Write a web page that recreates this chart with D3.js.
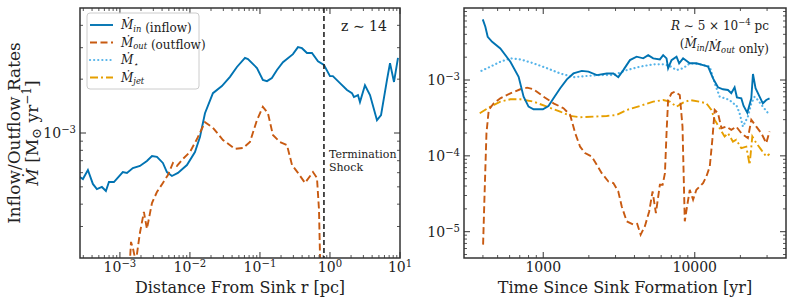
<!DOCTYPE html>
<html>
<head>
<meta charset="utf-8">
<script src="https://cdn.jsdelivr.net/npm/d3@7"></script>
<style>
  body { margin: 0; background: #fff; }
  text { font-family: "DejaVu Serif", serif; fill: #222; }
</style>
</head>
<body>
<div id="chart"></div>
<script>
// left panel: rate vs distance from sink [pc, Msun/yr]
const distInflow = [
  [2.68e-4, 5.68e-4], [2.96e-4, 5.53e-4], [3.49e-4, 6.21e-4], [4.11e-4, 5.19e-4], [4.69e-4, 4.86e-4],
  [5.53e-4, 4.99e-4], [6.31e-4, 4.74e-4], [6.97e-4, 5.32e-4], [8.21e-4, 5.32e-4], [1.10e-3, 6.05e-4],
  [1.26e-3, 5.98e-4], [1.53e-3, 6.37e-4], [1.93e-3, 6.54e-4], [2.43e-3, 6.98e-4], [2.87e-3, 7.44e-4],
  [3.38e-3, 7.35e-4], [4.11e-3, 6.80e-4], [4.69e-3, 6.05e-4], [5.53e-3, 5.75e-4], [6.74e-3, 5.98e-4],
  [9.06e-3, 6.62e-4], [1.18e-2, 7.83e-4], [1.39e-2, 9.50e-4], [1.64e-2, 1.29e-3], [2.13e-2, 1.67e-3],
  [2.86e-2, 1.83e-3], [3.73e-2, 2.06e-3], [4.69e-2, 2.34e-3], [6.11e-2, 2.63e-3], [6.74e-2, 2.59e-3],
  [9.06e-2, 2.31e-3], [0.110, 1.98e-3], [0.126, 1.95e-3], [0.148, 2.03e-3], [0.175, 2.25e-3],
  [0.213, 2.49e-3], [0.296, 2.76e-3], [0.349, 3.02e-3], [0.398, 2.98e-3], [0.469, 2.80e-3],
  [0.553, 2.80e-3], [0.674, 2.52e-3], [0.821, 2.40e-3], [1.00, 2.08e-3], [1.10, 2.08e-3],
  [1.39, 1.90e-3], [1.75, 1.74e-3], [2.06, 1.67e-3], [2.20, 1.59e-3], [2.51, 1.63e-3],
  [2.68, 1.49e-3], [3.16, 1.85e-3], [3.73, 1.63e-3], [4.69, 1.18e-3], [5.36, 1.26e-3],
  [6.52, 1.98e-3], [7.20, 2.46e-3], [8.21, 1.93e-3], [9.36, 2.63e-3]
];
const distOutflow = [
  [1.30e-3, 1.2e-4], [1.44e-3, 2.46e-4], [1.53e-3, 2.28e-4], [1.69e-3, 1.9e-4], [1.81e-3, 2.31e-4],
  [1.93e-3, 2.76e-4], [2.20e-3, 3.62e-4], [2.43e-3, 2.91e-4], [2.87e-3, 4.06e-4], [3.38e-3, 4.68e-4],
  [4.11e-3, 5.26e-4], [4.85e-3, 5.82e-4], [5.72e-3, 6.80e-4], [6.52e-3, 6.54e-4], [7.94e-3, 7.16e-4],
  [1.00e-2, 7.83e-4], [1.26e-2, 9.25e-4], [1.64e-2, 1.15e-3], [2.13e-2, 1.07e-3], [2.96e-2, 9.14e-4],
  [4.39e-2, 8.15e-4], [5.72e-2, 8.24e-4], [7.20e-2, 8.91e-4], [9.06e-2, 1.18e-3], [0.110, 1.40e-3],
  [0.130, 1.29e-3], [0.153, 9.75e-4], [0.193, 8.91e-4], [0.243, 8.57e-4], [0.287, 6.62e-4],
  [0.349, 5.98e-4], [0.440, 5.26e-4], [0.572, 6.05e-4], [0.652, 5.61e-4], [0.697, 3.72e-4],
  [0.75, 1.0e-4]
];
const shockRadius = 0.82;

// right panel: rate vs time since sink formation [yr, Msun/yr]
const timeInflow = [
  [399, 6.30e-3], [415, 5.03e-3], [430, 3.71e-3], [460, 3.19e-3], [521, 2.61e-3], [607, 1.74e-3],
  [688, 1.10e-3], [742, 6.03e-4], [800, 4.45e-4], [863, 4.11e-4], [995, 4.11e-4], [1083, 4.55e-4],
  [1169, 5.74e-4], [1294, 7.78e-4], [1432, 1.02e-3], [1583, 1.22e-3], [1797, 1.32e-3], [1988, 1.29e-3],
  [2257, 1.16e-3], [2625, 1.22e-3], [2902, 1.22e-3], [3128, 1.09e-3], [3376, 1.35e-3], [3735, 1.83e-3],
  [4133, 2.03e-3], [4571, 1.93e-3], [4928, 2.13e-3], [5318, 1.93e-3], [5885, 1.87e-3], [6186, 2.13e-3],
  [6511, 1.93e-3], [6670, 1.43e-3], [7026, 1.83e-3], [7580, 2.03e-3], [7887, 1.66e-3], [8376, 1.93e-3],
  [9267, 1.66e-3], [10250, 1.66e-3], [11340, 1.57e-3], [12240, 1.50e-3], [13200, 1.05e-3], [14230, 8.02e-4],
  [15350, 7.55e-4], [16560, 7.39e-4], [17420, 6.68e-4], [18320, 8.02e-4], [18970, 5.91e-4], [20280, 5.74e-4],
  [21000, 4.55e-4], [22220, 3.71e-4], [23610, 5.74e-4], [24210, 1.20e-3], [25180, 7.78e-4], [26770, 6.03e-4],
  [28130, 4.93e-4], [29640, 5.45e-4], [31150, 5.74e-4]
];
const timeOutflow = [
  [401, 6.75e-6], [409, 2.64e-5], [422, 1.99e-4], [437, 4.03e-4], [471, 4.93e-4], [521, 5.74e-4],
  [607, 6.68e-4], [706, 7.55e-4], [782, 7.93e-4], [863, 7.55e-4], [1005, 6.03e-4], [1169, 4.93e-4],
  [1360, 4.25e-4], [1506, 3.46e-4], [1625, 1.99e-4], [1751, 1.32e-4], [1888, 1.09e-4], [2090, 9.80e-5],
  [2257, 7.62e-5], [2432, 5.92e-5], [2690, 4.59e-5], [2902, 4.37e-5], [3128, 3.39e-5], [3297, 2.15e-5],
  [3555, 1.37e-5], [3927, 1.24e-5], [4170, 1.27e-5], [4393, 9.14e-6], [4688, 1.18e-5], [5002, 1.85e-5],
  [5268, 3.39e-5], [5539, 1.76e-5], [5885, 4.15e-5], [6137, 4.15e-5], [6355, 5.92e-5], [6511, 1.99e-4],
  [6670, 5.45e-4], [7026, 6.68e-4], [7377, 7.02e-4], [7963, 6.35e-4], [8300, 2.43e-4], [8592, 1.37e-5],
  [8896, 2.15e-5], [9267, 3.57e-5], [9747, 2.64e-5], [10250, 3.57e-5], [10790, 3.94e-5], [11340, 4.37e-5],
  [11930, 5.35e-5], [12560, 7.23e-5], [13060, 1.63e-4], [13540, 4.03e-4], [14230, 3.65e-4], [15000, 2.31e-4],
  [16190, 2.43e-4], [17420, 2.20e-4], [18790, 2.43e-4], [20280, 1.99e-4], [22420, 1.71e-4], [23610, 2.98e-4],
  [25480, 2.43e-4], [27490, 1.99e-4], [29640, 1.47e-4], [31150, 2.09e-4]
];
const timeStar = [
  [391, 1.32e-3], [448, 1.50e-3], [521, 1.74e-3], [607, 1.93e-3], [706, 1.87e-3], [863, 1.66e-3],
  [1058, 1.43e-3], [1294, 1.22e-3], [1583, 1.09e-3], [1939, 1.13e-3], [2373, 1.16e-3], [2902, 1.16e-3],
  [3555, 1.35e-3], [4347, 1.50e-3], [5318, 1.61e-3], [6186, 1.61e-3], [6847, 1.53e-3], [7580, 1.35e-3],
  [8376, 1.43e-3], [9267, 1.66e-3], [10790, 1.62e-3], [12560, 1.50e-3], [13540, 9.05e-4], [14600, 6.03e-4],
  [15740, 5.74e-4], [16980, 5.45e-4], [17860, 4.93e-4], [18790, 4.69e-4], [19760, 3.65e-4], [20790, 2.43e-4],
  [22420, 3.29e-4], [23610, 4.93e-4], [24830, 6.03e-4], [26080, 5.45e-4], [28130, 4.45e-4], [31150, 3.46e-4]
];
const timeJet = [
  [381, 3.65e-4], [448, 4.45e-4], [521, 5.18e-4], [607, 5.57e-4], [706, 5.57e-4], [863, 5.18e-4],
  [1058, 4.45e-4], [1294, 3.83e-4], [1506, 3.36e-4], [1751, 3.23e-4], [2143, 3.29e-4], [2625, 3.36e-4],
  [3054, 3.46e-4], [3555, 4.03e-4], [4347, 4.55e-4], [5318, 5.18e-4], [6186, 5.45e-4], [6847, 5.18e-4],
  [7580, 4.45e-4], [8376, 5.02e-4], [9267, 5.45e-4], [10790, 5.18e-4], [11930, 4.93e-4], [12880, 4.03e-4],
  [13540, 2.98e-4], [14600, 2.31e-4], [15740, 1.80e-4], [16560, 1.99e-4], [17860, 1.54e-4], [18790, 1.63e-4],
  [20280, 1.26e-4], [21880, 1.32e-4], [23010, 7.62e-5], [23970, 1.80e-4], [25480, 1.47e-4], [27490, 1.20e-4],
  [29640, 9.80e-5], [31150, 1.06e-4]
];

const colors = { inflow: '#0173b2', outflow: '#c85a11', star: '#56b4e9', jet: '#e69f00' };
const dashes = { inflow: null, outflow: '7,3.5', star: '0.1,4', jet: '8,3,2,3' };

const legendItems = [
  { key: 'inflow', sub: 'in', extra: ' (inflow)' },
  { key: 'outflow', sub: 'out', extra: ' (outflow)' },
  { key: 'star', sub: '\u22c6', extra: '' },
  { key: 'jet', sub: 'jet', extra: '' }
];

const svg = d3.select('#chart').append('svg')
  .attr('width', 793)
  .attr('height', 300);

const defs = svg.append('defs');

function supLabel(sel, base, exp) {
  sel.text(null);
  sel.append('tspan').text(base);
  sel.append('tspan').attr('dy', '-0.45em').attr('font-size', '0.72em').text(exp);
}

function mdot(sel, sub, size) {
  sel.append('tspan').attr('font-style', 'italic').text('\u1e40');
  sel.append('tspan').attr('font-style', 'italic').attr('font-size', size * 0.7)
    .attr('dy', size * 0.22).text(sub);
  sel.append('tspan').attr('dy', -size * 0.22).text('');
}

function strokeStyle(sel, key) {
  return sel.attr('stroke', colors[key])
    .attr('stroke-width', key === 'star' ? 2.2 : 1.9)
    .attr('stroke-linecap', key === 'star' ? 'round' : 'butt')
    .attr('stroke-dasharray', dashes[key]);
}

function drawPanel(cfg) {
  const { left, right, top, bottom } = cfg.box;
  const x = d3.scaleLog().domain(cfg.xDomain).range([left, right]);
  const y = d3.scaleLog().domain(cfg.yDomain).range([bottom, top]);

  const g = svg.append('g');
  const clipId = `clip_${cfg.name}`;
  defs.append('clipPath').attr('id', clipId)
    .append('rect').attr('x', left).attr('y', top)
    .attr('width', right - left).attr('height', bottom - top);

  const plot = g.append('g').attr('clip-path', `url(#${clipId})`);
  const line = d3.line().x(d => x(d[0])).y(d => y(d[1]));

  cfg.series.forEach(s => {
    plot.append('path')
      .datum(s.data)
      .attr('fill', 'none')
      .call(strokeStyle, s.key)
      .attr('d', line);
  });

  // ticks, inward on all four sides
  const xt = g.append('g');
  const yt = g.append('g');
  cfg.xMajor.forEach(v => {
    xt.append('line').attr('x1', x(v)).attr('x2', x(v)).attr('y1', bottom).attr('y2', bottom - 6).attr('stroke', '#333');
    xt.append('line').attr('x1', x(v)).attr('x2', x(v)).attr('y1', top).attr('y2', top + 6).attr('stroke', '#333');
  });
  cfg.xMinor.forEach(v => {
    xt.append('line').attr('x1', x(v)).attr('x2', x(v)).attr('y1', bottom).attr('y2', bottom - 3).attr('stroke', '#555');
    xt.append('line').attr('x1', x(v)).attr('x2', x(v)).attr('y1', top).attr('y2', top + 3).attr('stroke', '#555');
  });
  cfg.yMajor.forEach(v => {
    yt.append('line').attr('y1', y(v)).attr('y2', y(v)).attr('x1', left).attr('x2', left + 6).attr('stroke', '#333');
    yt.append('line').attr('y1', y(v)).attr('y2', y(v)).attr('x1', right).attr('x2', right - 6).attr('stroke', '#333');
  });
  cfg.yMinor.forEach(v => {
    yt.append('line').attr('y1', y(v)).attr('y2', y(v)).attr('x1', left).attr('x2', left + 3).attr('stroke', '#555');
    yt.append('line').attr('y1', y(v)).attr('y2', y(v)).attr('x1', right).attr('x2', right - 3).attr('stroke', '#555');
  });

  // tick labels
  cfg.xLabels.forEach(t => {
    const el = g.append('text')
      .attr('x', x(t.v)).attr('y', bottom + 14)
      .attr('text-anchor', 'middle').attr('font-size', 14);
    if (t.exp != null) supLabel(el, '10', t.exp); else el.text(t.text);
  });
  cfg.yLabels.forEach(t => {
    const el = g.append('text')
      .attr('x', left - 4).attr('y', y(t.v) + 5)
      .attr('text-anchor', 'end').attr('font-size', 14);
    supLabel(el, '10', t.exp);
  });

  g.append('text')
    .attr('x', (left + right) / 2).attr('y', 293)
    .attr('text-anchor', 'middle').attr('font-size', 16)
    .text(cfg.xTitle);

  g.append('rect')
    .attr('x', left).attr('y', top)
    .attr('width', right - left).attr('height', bottom - top)
    .attr('fill', 'none').attr('stroke', '#333').attr('stroke-width', 1.5);

  return { x, y, g };
}

function minorTicks(lo, hi) {
  const out = [];
  for (let e = Math.floor(Math.log10(lo)); e <= Math.ceil(Math.log10(hi)); e++) {
    for (let m = 2; m <= 9; m++) {
      const v = m * Math.pow(10, e);
      if (v > lo * 1.001 && v < hi * 0.999) out.push(v);
    }
  }
  return out;
}

// ---- left panel
const leftX = [Math.pow(10, -3.57), 10];
const leftY = [2e-4, 5e-3];
const L = drawPanel({
  name: 'left',
  box: { left: 80, right: 400, top: 8, bottom: 258 },
  xDomain: leftX, yDomain: leftY,
  series: [{ key: 'inflow', data: distInflow }, { key: 'outflow', data: distOutflow }],
  xMajor: [1e-3, 1e-2, 1e-1, 1, 10],
  xMinor: minorTicks(leftX[0], leftX[1]),
  yMajor: [1e-3],
  yMinor: minorTicks(leftY[0], leftY[1]),
  xLabels: [{ v: 1e-3, exp: '\u22123' }, { v: 1e-2, exp: '\u22122' }, { v: 1e-1, exp: '\u22121' }, { v: 1, exp: '0' }, { v: 10, exp: '1' }],
  yLabels: [{ v: 1e-3, exp: '\u22123' }],
  xTitle: 'Distance From Sink r [pc]'
});

L.g.append('line')
  .attr('x1', L.x(shockRadius)).attr('x2', L.x(shockRadius))
  .attr('y1', 8).attr('y2', 258)
  .attr('stroke', '#222').attr('stroke-width', 1.6).attr('stroke-dasharray', '5,3');

L.g.append('text').attr('x', 329).attr('y', 158).attr('font-size', 11).text('Termination');
L.g.append('text').attr('x', 329).attr('y', 171).attr('font-size', 11).text('Shock');
L.g.append('text').attr('x', 364).attr('y', 31).attr('text-anchor', 'middle').attr('font-size', 14).text('z \u223c 14');

// y axis titles
svg.append('text')
  .attr('transform', 'translate(20,133) rotate(-90)')
  .attr('text-anchor', 'middle').attr('font-size', 17)
  .text('Inflow/Outflow Rates');
const yt2 = svg.append('text')
  .attr('transform', 'translate(38,133) rotate(-90)')
  .attr('text-anchor', 'middle').attr('font-size', 17);
yt2.append('tspan').attr('font-style', 'italic').text('\u1e40');
yt2.append('tspan').text(' [M');
yt2.append('tspan').attr('font-size', 13).attr('dy', 3).text('\u2299');
yt2.append('tspan').attr('dy', -3).text(' yr');
yt2.append('tspan').attr('font-size', 12).attr('dy', -7).text('\u22121');
yt2.append('tspan').attr('dy', 7).text(']');

// legend
const lg = svg.append('g');
lg.append('rect').attr('x', 87).attr('y', 13).attr('width', 112).attr('height', 76)
  .attr('rx', 3).attr('fill', '#fff').attr('fill-opacity', 0.85)
  .attr('stroke', '#ccc');
legendItems.forEach((it, i) => {
  const yy = 25 + i * 17.5;
  lg.append('line').attr('x1', 90).attr('x2', 113).attr('y1', yy).attr('y2', yy)
    .call(strokeStyle, it.key);
  const t = lg.append('text').attr('x', 121).attr('y', yy + 4).attr('font-size', 12);
  mdot(t, it.sub, 12);
  if (it.extra) t.append('tspan').text(it.extra);
});

// ---- right panel
const rightX = [300, 40000];
const rightY = [4.5e-6, 8.9e-3];
const R = drawPanel({
  name: 'right',
  box: { left: 464, right: 786, top: 8, bottom: 258 },
  xDomain: rightX, yDomain: rightY,
  series: [
    { key: 'star', data: timeStar },
    { key: 'jet', data: timeJet },
    { key: 'outflow', data: timeOutflow },
    { key: 'inflow', data: timeInflow }
  ],
  xMajor: [1000, 10000],
  xMinor: minorTicks(rightX[0], rightX[1]),
  yMajor: [1e-5, 1e-4, 1e-3],
  yMinor: minorTicks(rightY[0], rightY[1]),
  xLabels: [{ v: 1000, text: '1000' }, { v: 10000, text: '10000' }],
  yLabels: [{ v: 1e-5, exp: '\u22125' }, { v: 1e-4, exp: '\u22124' }, { v: 1e-3, exp: '\u22123' }],
  xTitle: 'Time Since Sink Formation [yr]'
});

const a1 = R.g.append('text').attr('x', 769).attr('y', 30).attr('text-anchor', 'end').attr('font-size', 12);
a1.append('tspan').attr('font-style', 'italic').text('R');
a1.append('tspan').text(' \u223c 5 \u00d7 10');
a1.append('tspan').attr('font-size', 8.5).attr('dy', -5).text('\u22124');
a1.append('tspan').attr('dy', 5).text(' pc');
const a2 = R.g.append('text').attr('x', 769).attr('y', 48).attr('text-anchor', 'end').attr('font-size', 12);
a2.append('tspan').text('(');
mdot(a2, 'in', 12);
a2.append('tspan').text('/');
mdot(a2, 'out', 12);
a2.append('tspan').text(' only)');
</script>
</body>
</html>
